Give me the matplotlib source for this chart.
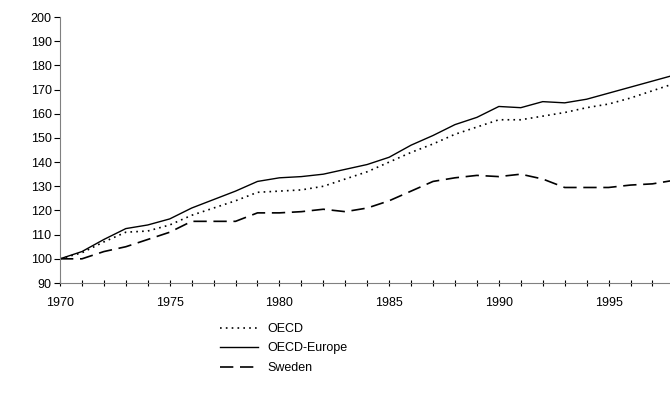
import matplotlib
matplotlib.use("Agg")
import matplotlib.pyplot as plt

years = list(range(1970, 2001))
oecd_europe = [100, 103, 108, 112.5, 114, 116.5, 121, 124.5, 128, 132, 133.5, 134, 135, 137, 139,
               142, 147, 151, 155.5, 158.5, 163, 162.5, 165, 164.5, 166, 168.5, 171, 173.5, 176, 178.5, 181]
oecd = [100, 102.5, 107, 111, 111.5, 114, 118, 121, 124, 127.5, 128, 128.5, 130, 133, 136,
        140, 144, 147.5, 151.5, 154.5, 157.5, 157.5, 159, 160.5, 162.5, 164, 166.5, 169.5, 172.5, 175.5, 178]
sweden = [100, 100, 103, 105, 108, 111, 115.5, 115.5, 115.5, 119, 119, 119.5, 120.5, 119.5, 121,
          124, 128, 132, 133.5, 134.5, 134, 135, 133, 129.5, 129.5, 129.5, 130.5, 131, 132.5, 134, 135]
xticks = [1970, 1975, 1980, 1985, 1990, 1995]

plt.rcParams['font.family'] = ['Liberation Sans', 'DejaVu Sans']
fig = plt.figure(figsize=(6.70, 4.12), dpi=100)
ax = fig.add_axes([60/670, 1-283/412, 1-60/670, (283-17)/412])
ax.plot(years, oecd, color='black', lw=1.2, linestyle=(0, (1, 2.5)), label='OECD')
ax.plot(years, oecd_europe, color='black', lw=1.0, label='OECD-Europe')
ax.plot(years, sweden, color='black', lw=1.2, linestyle=(0, (8, 4)), label='Sweden')
ax.set_xlim(1970, 1997.8)
ax.set_ylim(90, 200)
ax.set_yticks(range(90, 201, 10))
ax.set_xticks(range(1970, 1998), minor=True)
ax.set_xticks(xticks)
ax.tick_params(labelsize=9, length=4, width=0.8)
ax.tick_params(axis='x', which='minor', length=4, width=0.8)
ax.tick_params(axis='x', which='both', direction='inout', pad=8)
ax.tick_params(axis='y', direction='out', pad=2)
for s in ['top', 'right']:
    ax.spines[s].set_visible(False)
ax.spines['left'].set_color('#808080')
ax.spines['bottom'].set_color('#808080')
fig.legend(loc='upper left', bbox_to_anchor=(215/670, 1-318/412), frameon=False,
           fontsize=9, handlelength=3, labelspacing=0.6, borderaxespad=0)
fig.savefig('out.png', dpi=100)
